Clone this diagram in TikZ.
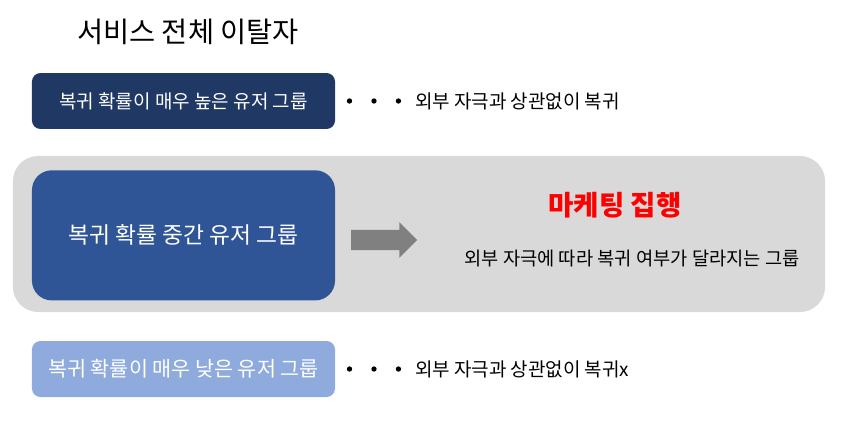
\documentclass[tikz,border=0pt]{standalone}
\usepackage{fontspec}
\setmainfont{Noto Sans CJK KR}
\usetikzlibrary{positioning, shapes.arrows}

\definecolor{navy}{HTML}{203864}
\definecolor{midblue}{HTML}{2F5597}
\definecolor{lightblue}{HTML}{8FAADC}
\definecolor{panelgray}{HTML}{D9D9D9}
\definecolor{arrowgray}{HTML}{808080}
\newcommand{\fsz}[1]{\fontsize{#1}{#1}\selectfont}

\begin{document}
\begin{tikzpicture}[
  x=0.025cm, y=-0.025cm,
  node distance=29pt and 9pt,
  group/.style={rectangle, rounded corners=6pt, inner sep=0pt,
                minimum width=215.5pt, minimum height=39.8pt,
                text=white, align=center},
  high/.style={group, fill=navy, font=\fsz{13.5pt}},
  mid/.style={group, fill=midblue, rounded corners=14pt,
              minimum height=92.5pt, font=\fsz{16.2pt}},
  low/.style={group, fill=lightblue, font=\fsz{14.7pt}},
  dot/.style={circle, fill=black, inner sep=0pt, minimum size=3.8pt},
  note/.style={inner sep=0pt, font=\fsz{13.5pt}, anchor=west}
]
  \useasboundingbox (0,0) rectangle (848,426);

  % Title
  \node (title) at (188,32) {\fsz{20.2pt}서비스 전체 이탈자};

  % Middle panel
  \node[rectangle, rounded corners=18pt, fill=panelgray,
        minimum width=577.6pt, minimum height=111pt] (panel) at (419,234) {};

  % Groups
  \node[high] (hi) at (183.5,101) {복귀 확률이 매우 높은 유저 그룹};
  \node[mid, below=29pt of hi] (md) {복귀 확률 중간 유저 그룹};
  \node[low, below=28.5pt of md] (lo) {복귀 확률이 매우 낮은 유저 그룹};

  % Top row
  \node[dot, right=8pt of hi] (hd1) {};
  \node[dot, right=13.2pt of hd1] (hd2) {};
  \node[dot, right=13.2pt of hd2] (hd3) {};
  \node[note, right=9.5pt of hd3] (htxt) {외부 자극과 상관없이 복귀};

  % Bottom row
  \node[dot, right=8pt of lo] (ld1) {};
  \node[dot, right=13.2pt of ld1] (ld2) {};
  \node[dot, right=13.2pt of ld2] (ld3) {};
  \node[note, right=9.5pt of ld3] (ltxt) {외부 자극과 상관없이 복귀x};

  % Marketing
  \node[single arrow, fill=arrowgray, inner sep=7pt,
        minimum height=47pt, minimum width=25pt,
        single arrow head extend=5.5pt] (push) at (379,240) {};
  \node[text=red, font=\fsz{19.6pt}\bfseries] (mkt) at (615,205) {마케팅 집행};
  \node[font=\fsz{13.3pt}] (dep) at (632,259) {외부 자극에 따라 복귀 여부가 달라지는 그룹};
\end{tikzpicture}
\end{document}
